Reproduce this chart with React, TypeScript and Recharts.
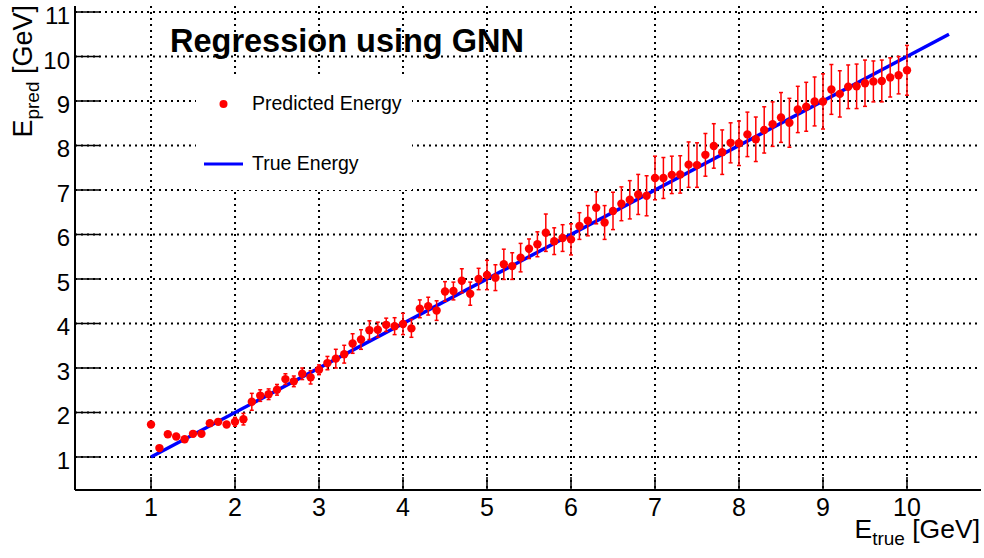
import { ComposedChart, Scatter, Line, XAxis, YAxis, CartesianGrid, ErrorBar, Customized } from "recharts";

// true energy bins (GeV)
const eTrue = [
  1.0, 1.1, 1.2, 1.3, 1.4, 1.5, 1.6, 1.7, 1.8, 1.9,
  2.0, 2.1, 2.2, 2.3, 2.4, 2.5, 2.6, 2.7, 2.8, 2.9,
  3.0, 3.1, 3.2, 3.3, 3.4, 3.5, 3.6, 3.7, 3.8, 3.9,
  4.0, 4.1, 4.2, 4.3, 4.4, 4.5, 4.6, 4.7, 4.8, 4.9,
  5.0, 5.1, 5.2, 5.3, 5.4, 5.5, 5.6, 5.7, 5.8, 5.9,
  6.0, 6.1, 6.2, 6.3, 6.4, 6.5, 6.6, 6.7, 6.8, 6.9,
  7.0, 7.1, 7.2, 7.3, 7.4, 7.5, 7.6, 7.7, 7.8, 7.9,
  8.0, 8.1, 8.2, 8.3, 8.4, 8.5, 8.6, 8.7, 8.8, 8.9,
  9.0, 9.1, 9.2, 9.3, 9.4, 9.5, 9.6, 9.7, 9.8, 9.9,
  10.0,
];

// GNN predicted energy per bin
const ePred = [
  1.73, 1.20, 1.51, 1.46, 1.40, 1.52, 1.52, 1.76, 1.79, 1.73,
  1.79, 1.85, 2.24, 2.38, 2.41, 2.51, 2.75, 2.70, 2.87, 2.79,
  2.96, 3.11, 3.21, 3.31, 3.55, 3.64, 3.85, 3.86, 3.97, 3.94,
  3.99, 3.89, 4.33, 4.39, 4.29, 4.72, 4.73, 4.96, 4.67, 5.00,
  5.09, 5.03, 5.33, 5.29, 5.48, 5.68, 5.78, 6.04, 5.85, 5.92,
  5.89, 6.19, 6.31, 6.60, 6.27, 6.53, 6.69, 6.78, 6.90, 6.87,
  7.27, 7.27, 7.34, 7.35, 7.57, 7.56, 7.79, 7.99, 7.85, 8.06,
  8.05, 8.25, 8.14, 8.35, 8.48, 8.63, 8.51, 8.81, 8.87, 8.99,
  8.99, 9.26, 9.16, 9.32, 9.33, 9.40, 9.44, 9.45, 9.53, 9.58,
  9.69,
];

// half-width of the error bar
const ePredErr = [
  0.06, 0.05, 0.05, 0.05, 0.05, 0.05, 0.05, 0.05, 0.05, 0.06,
  0.10, 0.13, 0.19, 0.13, 0.12, 0.12, 0.12, 0.12, 0.13, 0.15,
  0.11, 0.15, 0.21, 0.20, 0.22, 0.22, 0.21, 0.17, 0.15, 0.19,
  0.24, 0.20, 0.20, 0.20, 0.22, 0.22, 0.20, 0.27, 0.26, 0.24,
  0.33, 0.29, 0.34, 0.30, 0.32, 0.22, 0.28, 0.42, 0.30, 0.30,
  0.35, 0.30, 0.34, 0.36, 0.38, 0.42, 0.38, 0.43, 0.45, 0.45,
  0.49, 0.46, 0.42, 0.42, 0.51, 0.50, 0.48, 0.50, 0.50, 0.45,
  0.50, 0.50, 0.50, 0.52, 0.50, 0.56, 0.55, 0.52, 0.55, 0.55,
  0.62, 0.56, 0.52, 0.49, 0.50, 0.52, 0.46, 0.47, 0.44, 0.42,
  0.56,
];

// true energy reference line end points
const trueLineX = [1.0, 10.5];
const trueLineY = [1.0, 10.5];

const xTicks = [1, 2, 3, 4, 5, 6, 7, 8, 9, 10];
const yTicks = [1, 2, 3, 4, 5, 6, 7, 8, 9, 10, 11];

const predData = eTrue.map((x, i) => ({ x, y: ePred[i], err: ePredErr[i] }));
const trueData = trueLineX.map((x, i) => ({ x, y: trueLineY[i] }));

const FONT = "'Liberation Sans', Arial, Helvetica, sans-serif";
const RED = "#ff0000";
const BLUE = "#0000ff";

function XTick({ x, y, payload }: any) {
  return (
    <g>
      <line x1={x} y1={y} x2={x} y2={y - 13} stroke="#000" strokeWidth={1.5} />
      <text x={x} y={y + 26} textAnchor="middle" fontSize={25} fontFamily={FONT} fill="#000">
        {payload.value}
      </text>
    </g>
  );
}

function YTick({ x, y, payload }: any) {
  return (
    <g>
      <line x1={x} y1={y} x2={x + 25} y2={y} stroke="#000" strokeWidth={1.5} />
      <text x={x - 5} y={y + 12} textAnchor="end" fontSize={24} fontFamily={FONT} fill="#000">
        {payload.value}
      </text>
    </g>
  );
}

function Dot({ cx, cy }: any) {
  return <circle cx={cx} cy={cy} r={4.2} fill={RED} />;
}

function Overlay() {
  return (
    <g fontFamily={FONT} fill="#000">
      <text x={170} y={52} fontSize={32.5} fontWeight="bold">
        Regression using GNN
      </text>

      {/* legend box (white, no border) */}
      <rect x={196} y={78} width={216} height={112} fill="#fff" />
      <circle cx={223.5} cy={104} r={4} fill={RED} />
      <text x={252} y={110} fontSize={19.5}>
        Predicted Energy
      </text>
      <line x1={204} y1={164} x2={243} y2={164} stroke={BLUE} strokeWidth={3} />
      <text x={252} y={170} fontSize={19.5}>
        True Energy
      </text>

      <text x={980} y={538} fontSize={26.5} textAnchor="end">
        E
        <tspan fontSize={19} dy={7}>true</tspan>
        <tspan fontSize={26.5} dy={-7}> [GeV]</tspan>
      </text>

      <text transform="translate(32,5) rotate(-90)" fontSize={27} textAnchor="end">
        E
        <tspan fontSize={19} dy={7}>pred</tspan>
        <tspan fontSize={27} dy={-7}> [GeV]</tspan>
      </text>
    </g>
  );
}

export default function App() {
  return (
    <div style={{ position: "absolute", left: 0, top: 0, background: "#fff" }}>
      <ComposedChart width={984} height={558} margin={{ top: 6, right: 3, bottom: 0, left: 0 }}>
        <CartesianGrid
          horizontalValues={yTicks}
          verticalValues={xTicks}
          stroke="#000"
          strokeWidth={2}
          strokeDasharray="2 4"
        />
        <XAxis
          dataKey="x"
          type="number"
          domain={[0.095, 10.881]}
          allowDataOverflow
          ticks={xTicks}
          tick={<XTick />}
          tickSize={0}
          tickMargin={0}
          height={68}
          axisLine={{ stroke: "#000", strokeWidth: 2 }}
          tickLine={false}
          interval={0}
        />
        <XAxis
          xAxisId="top"
          orientation="top"
          type="number"
          domain={[0.095, 10.881]}
          tick={false}
          tickLine={false}
          height={0}
          axisLine={{ stroke: "#000", strokeWidth: 2 }}
        />
        <YAxis
          type="number"
          domain={[0.258, 11.135]}
          allowDataOverflow
          ticks={yTicks}
          tick={<YTick />}
          tickSize={0}
          tickMargin={0}
          width={75}
          axisLine={{ stroke: "#000", strokeWidth: 2 }}
          tickLine={false}
          interval={0}
        />
        <YAxis
          yAxisId="right"
          orientation="right"
          type="number"
          domain={[0.258, 11.135]}
          tick={false}
          tickLine={false}
          width={0}
          axisLine={{ stroke: "#000", strokeWidth: 2 }}
        />
        <Line
          data={trueData}
          dataKey="y"
          type="linear"
          stroke={BLUE}
          strokeWidth={3.5}
          dot={false}
          activeDot={false}
          isAnimationActive={false}
        />
        <Scatter data={predData} dataKey="y" shape={<Dot />} isAnimationActive={false}>
          <ErrorBar dataKey="err" direction="y" stroke={RED} strokeWidth={1.5} width={2} />
        </Scatter>
        <Customized component={Overlay} />
      </ComposedChart>
    </div>
  );
}
